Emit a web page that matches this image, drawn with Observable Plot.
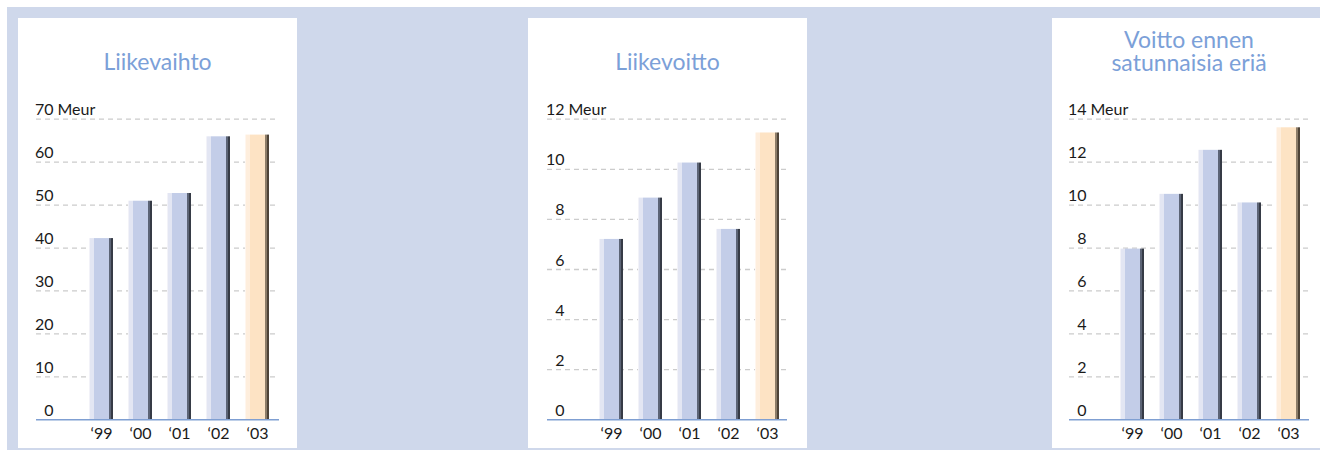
<!DOCTYPE html>
<html><head><meta charset="utf-8">
<script src="https://cdn.jsdelivr.net/npm/d3@7"></script>
<script src="https://cdn.jsdelivr.net/npm/@observablehq/plot@0.6"></script>
<style>
html,body{margin:0;padding:0;background:#fff;width:1320px;height:450px;overflow:hidden;font-family:Lato,sans-serif}
#bg{position:absolute;left:7px;top:7px;width:1313px;height:443px;background:#cfd8eb}
.panel{position:absolute;background:#fff;top:18px;height:430px}
.title{position:absolute;left:0;text-align:center;color:#7ba0d8;font-size:23px;line-height:22px;height:22px;white-space:nowrap}
.panel svg{position:absolute;left:0;top:77px}
</style></head><body>
<svg width="0" height="0" style="position:absolute"><defs>
<linearGradient id="gB" x1="0" x2="1" y1="0" y2="0">
<stop offset="0" stop-color="#f2f2f8"/><stop offset="0.06" stop-color="#f2f2f8"/>
<stop offset="0.06" stop-color="#e3e6f3"/><stop offset="0.19" stop-color="#e3e6f3"/>
<stop offset="0.19" stop-color="#c3cde8"/><stop offset="0.83" stop-color="#c3cde8"/>
<stop offset="0.83" stop-color="#5c6476"/><stop offset="0.91" stop-color="#5c6476"/>
<stop offset="0.91" stop-color="#363b46"/><stop offset="1" stop-color="#363b46"/>
</linearGradient>
<linearGradient id="gO" x1="0" x2="1" y1="0" y2="0">
<stop offset="0" stop-color="#fff6ee"/><stop offset="0.06" stop-color="#fff6ee"/>
<stop offset="0.06" stop-color="#feeedd"/><stop offset="0.19" stop-color="#feeedd"/>
<stop offset="0.19" stop-color="#fde3c4"/><stop offset="0.83" stop-color="#fde3c4"/>
<stop offset="0.83" stop-color="#8d7d69"/><stop offset="0.91" stop-color="#8d7d69"/>
<stop offset="0.91" stop-color="#4e4337"/><stop offset="1" stop-color="#4e4337"/>
</linearGradient>
</defs></svg>
<div id="bg"></div>
<div id="root"></div>
<script>
// ---- data ----
const years = ["‘99", "‘00", "‘01", "‘02", "‘03"];
const highlightYear = "‘03";
const liikevaihto = [42.2, 50.9, 52.7, 65.9, 66.3];
const liikevoitto = [7.2, 8.85, 10.25, 7.6, 11.45];
const voittoEnnen = [7.95, 10.5, 12.55, 10.1, 13.6];
const titles = [["Liikevaihto"], ["Liikevoitto"], ["Voitto ennen", "satunnaisia eriä"]];
const ticks1 = [0, 10, 20, 30, 40, 50, 60, 70];
const ticks2 = [0, 2, 4, 6, 8, 10, 12];
const ticks3 = [0, 2, 4, 6, 8, 10, 12, 14];
const unit = "Meur";

// ---- layout ----
const panels = [
  {values: liikevaihto, ticks: ticks1, title: titles[0], left: 18, width: 279, ml: 18, mr: 18, titleTop: 32, titleW: 279, x0: 45},
  {values: liikevoitto, ticks: ticks2, title: titles[1], left: 528, width: 279, ml: 19, mr: 20, titleTop: 32, titleW: 279, x0: 43.5},
  {values: voittoEnnen, ticks: ticks3, title: titles[2], left: 1052, width: 268, ml: 17, mr: 11, titleTop: 10, titleW: 274, x0: 43}
];

const root = document.getElementById("root");
for (const p of panels) {
  const div = document.createElement("div");
  div.className = "panel";
  div.style.left = p.left + "px";
  div.style.width = p.width + "px";
  p.title.forEach((line, i) => {
    const t = document.createElement("div");
    t.className = "title";
    t.style.top = (p.titleTop + i * 23) + "px";
    t.style.width = p.titleW + "px";
    t.textContent = line;
    div.appendChild(t);
  });

  const data = years.map((y, i) => ({year: y, value: p.values[i]}));
  const max = p.ticks[p.ticks.length - 1];
  const chart = Plot.plot({
    width: p.width,
    height: 353,
    marginLeft: p.ml,
    marginRight: p.mr,
    marginTop: 23.7,
    marginBottom: 28.7,
    x: {domain: years, range: [p.ml + p.x0, p.ml + p.x0 + 196], paddingInner: 0.385, paddingOuter: 0.1925, axis: null},
    y: {domain: [0, max], axis: null},
    style: {fontFamily: "Lato, sans-serif", fontSize: "16px", color: "#1a1a1a", background: "transparent", overflow: "visible"},
    marks: [
      Plot.ruleY(p.ticks.filter(v => v > 0), {stroke: "#cccccc", strokeWidth: 1.3, strokeDasharray: "5,4"}),
      Plot.barY(data, {x: "year", y: "value", fill: "url(#gB)", filter: d => d.year !== highlightYear}),
      Plot.barY(data, {x: "year", y: "value", fill: "url(#gO)", filter: d => d.year === highlightYear}),
      Plot.ruleY([0], {stroke: "#7f9fd2", strokeWidth: 1.6}),
      Plot.text(p.ticks, {y: d => d, text: d => String(d), frameAnchor: "left", textAnchor: "end", dx: 17, dy: -4, lineAnchor: "bottom", fill: "#1a1a1a"}),
      Plot.text([max], {y: d => d, text: () => unit, frameAnchor: "left", textAnchor: "start", dx: 21, dy: -4, lineAnchor: "bottom", fill: "#1a1a1a"}),
      Plot.text(years, {x: d => d, text: d => d, frameAnchor: "bottom", dy: 19, lineAnchor: "bottom", fill: "#1a1a1a"})
    ]
  });
  div.appendChild(chart);
  root.appendChild(div);
}
</script>
</body></html>
